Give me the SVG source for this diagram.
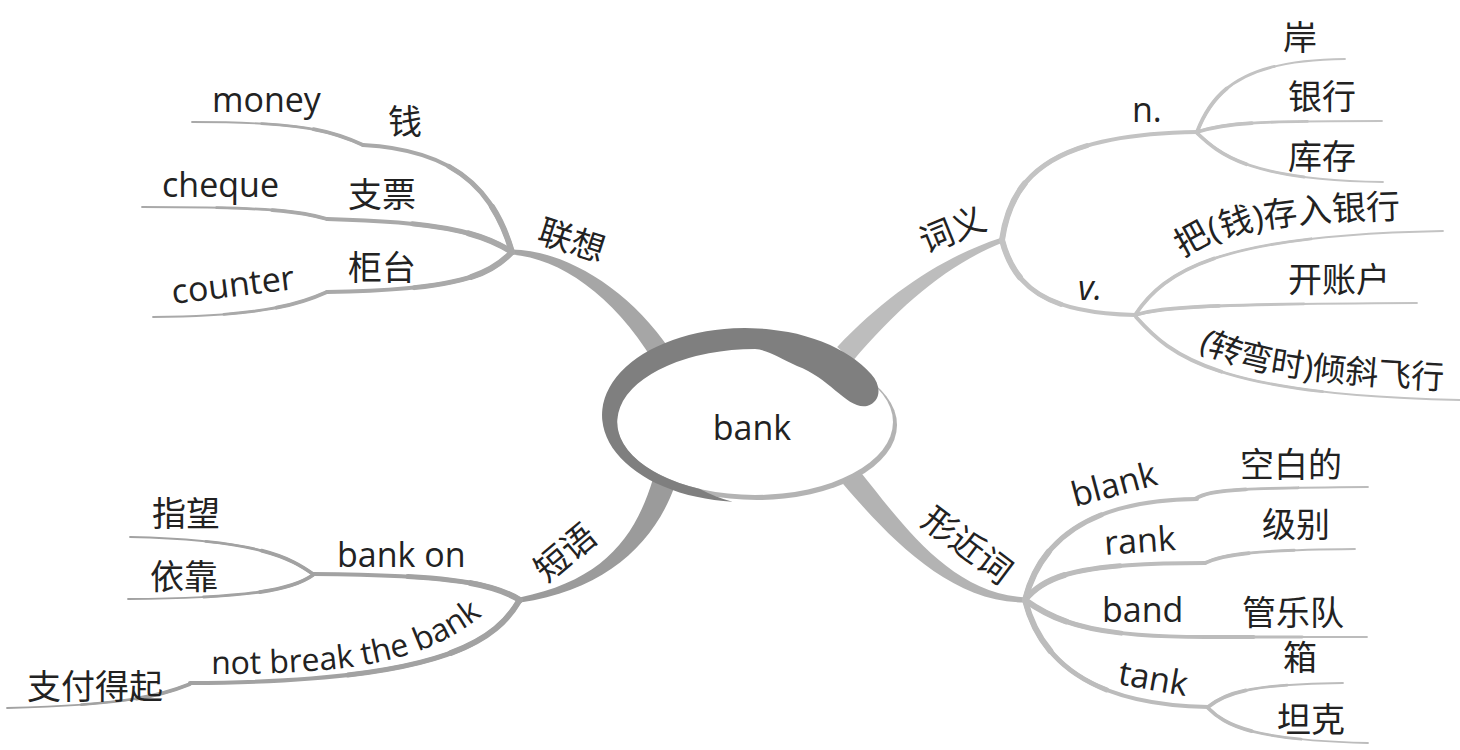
<svg xmlns="http://www.w3.org/2000/svg" width="1460" height="750" viewBox="0 0 1460 750">
<style>
.t{font-family:"Open Sans","Noto Sans CJK SC",sans-serif;font-size:34px;fill:#222}
.it{font-style:italic}
.s{fill:none;stroke-linecap:round}
.w1{stroke-width:4}
.w1b{stroke-width:5;stroke-dasharray:55 300}
.w1c{stroke-width:6;stroke-dasharray:25 300}
.w2{stroke-width:1.8}
.w2b{stroke-width:2.8;stroke-dasharray:60 300}
.w2c{stroke-width:3.8;stroke-dasharray:30 300}
.gL{stroke:#a9a9a9}
.gR{stroke:#c3c3c3}
.gP{stroke:#a2a2a2}
.gX{stroke:#bcbcbc}
</style>
<defs>
<path id="c_qian" pathLength="100" d="M 512 252 C 495 195 460 150 363 145"/>
<path id="c_money" pathLength="100" d="M 363 145 C 330 130 300 122 192 122"/>
<path id="c_zp" pathLength="100" d="M 512 252 C 480 232 440 222 327 219"/>
<path id="c_cheque" pathLength="100" d="M 327 219 C 300 212 280 207 142 207"/>
<path id="c_gt" pathLength="100" d="M 512 252 C 490 275 460 290 327 292"/>
<path id="c_counter" pathLength="100" d="M 327 292 C 305 302 270 316 153 317"/>
<path id="c_n" pathLength="100" d="M 1002 240 C 1012 170 1060 134 1197 132"/>
<path id="c_v" pathLength="100" d="M 1002 240 C 1015 290 1050 313 1135 315"/>
<path id="c_an" pathLength="100" d="M 1197 132 C 1215 85 1250 60 1345 59"/>
<path id="c_yh" pathLength="100" d="M 1197 132 C 1225 123 1250 121 1382 121"/>
<path id="c_kc" pathLength="100" d="M 1197 133 C 1220 155 1250 180 1383 182"/>
<path id="c_cr" pathLength="100" d="M 1135 315 C 1165 270 1220 235 1443 231"/>
<path id="c_kz" pathLength="100" d="M 1135 315 C 1160 308 1190 304 1417 303"/>
<path id="c_qx" pathLength="100" d="M 1136 317 C 1170 355 1215 395 1460 400"/>
<path id="c_bo" pathLength="100" d="M 520 600 C 495 585 460 575 313 574"/>
<path id="c_zw" pathLength="100" d="M 313 574 C 290 558 260 540 130 537"/>
<path id="c_yk" pathLength="100" d="M 313 575 C 295 588 260 598 128 599"/>
<path id="c_nb" pathLength="100" d="M 519 601 C 495 642 440 682 190 683"/>
<path id="c_zf" pathLength="100" d="M 190 684 C 170 692 140 705 7 708"/>
<path id="c_blank" pathLength="100" d="M 1025 600 C 1040 540 1090 500 1197 499"/>
<path id="c_kbd" pathLength="100" d="M 1195 499 C 1210 490 1230 488 1368 487"/>
<path id="c_rank" pathLength="100" d="M 1025 600 C 1045 575 1080 563 1205 563"/>
<path id="c_jb" pathLength="100" d="M 1205 563 C 1220 556 1240 550 1355 549"/>
<path id="c_band" pathLength="100" d="M 1025 600 C 1060 625 1100 637 1205 637"/>
<path id="c_gly" pathLength="100" d="M 1205 637 L 1367 637"/>
<path id="c_tank" pathLength="100" d="M 1025 600 C 1040 660 1090 705 1208 707"/>
<path id="c_x" pathLength="100" d="M 1208 707 C 1225 693 1250 684 1343 683"/>
<path id="c_tk" pathLength="100" d="M 1208 708 C 1225 725 1250 740 1368 743"/>
<path id="tp_cr" d="M 1183 258 C 1220 232 1270 220 1430 218"/>
<path id="tp_qx" d="M 1198 349 C 1235 368 1280 382 1462 390"/>
<path id="tp_nb" d="M 211 674 C 370 674 440 660 505 595"/>
</defs>

<g id="connectors">
  <path d="M 512.1 249.5 C 560.2 249.5 627.2 285.4 670.4 350.6 L 653.6 361.4 C 612.8 294.6 559.8 258.5 511.9 254.5 Z" fill="#a6a6a6"/>
  <path d="M 1001.2 237.7 C 946.3 255.4 888.7 292.3 837.2 347 L 852.8 361 C 901.3 303.7 949.3 263.8 1002.9 242.4 Z" fill="#bdbdbd"/>
  <path d="M 519.6 597.5 C 604.1 580.1 635.5 536.9 653.1 478.4 L 674.9 485.6 C 654.5 543.1 605.9 589.9 520.4 602.5 Z" fill="#9b9b9b"/>
  <path d="M 1025.1 597.5 C 950.1 593 902.3 523.9 859.1 470.3 L 842.9 483.7 C 887.7 536.1 949.9 603 1024.9 602.5 Z" fill="#b3b3b3"/>

  <g class="s gL">
    <use href="#c_qian" class="w1"/><use href="#c_qian" class="w1b"/><use href="#c_qian" class="w1c"/>
    <use href="#c_zp" class="w1"/><use href="#c_zp" class="w1b"/><use href="#c_zp" class="w1c"/>
    <use href="#c_gt" class="w1"/><use href="#c_gt" class="w1b"/><use href="#c_gt" class="w1c"/>
    <use href="#c_money" class="w2"/><use href="#c_money" class="w2b"/><use href="#c_money" class="w2c"/>
    <use href="#c_cheque" class="w2"/><use href="#c_cheque" class="w2b"/><use href="#c_cheque" class="w2c"/>
    <use href="#c_counter" class="w2"/><use href="#c_counter" class="w2b"/><use href="#c_counter" class="w2c"/>
  </g>
  <g class="s gR">
    <use href="#c_n" class="w1"/><use href="#c_n" class="w1b"/><use href="#c_n" class="w1c"/>
    <use href="#c_v" class="w1"/><use href="#c_v" class="w1b"/><use href="#c_v" class="w1c"/>
    <use href="#c_an" class="w2"/><use href="#c_an" class="w2b"/><use href="#c_an" class="w2c"/>
    <use href="#c_yh" class="w2"/><use href="#c_yh" class="w2b"/><use href="#c_yh" class="w2c"/>
    <use href="#c_kc" class="w2"/><use href="#c_kc" class="w2b"/><use href="#c_kc" class="w2c"/>
    <use href="#c_cr" class="w2"/><use href="#c_cr" class="w2b"/><use href="#c_cr" class="w2c"/>
    <use href="#c_kz" class="w2"/><use href="#c_kz" class="w2b"/><use href="#c_kz" class="w2c"/>
    <use href="#c_qx" class="w2"/><use href="#c_qx" class="w2b"/><use href="#c_qx" class="w2c"/>
  </g>
  <g class="s gP">
    <use href="#c_bo" class="w1"/><use href="#c_bo" class="w1b"/><use href="#c_bo" class="w1c"/>
    <use href="#c_nb" class="w1"/><use href="#c_nb" class="w1b"/><use href="#c_nb" class="w1c"/>
    <use href="#c_zw" class="w2"/><use href="#c_zw" class="w2b"/><use href="#c_zw" class="w2c"/>
    <use href="#c_yk" class="w2"/><use href="#c_yk" class="w2b"/><use href="#c_yk" class="w2c"/>
    <use href="#c_zf" class="w2"/><use href="#c_zf" class="w2b"/><use href="#c_zf" class="w2c"/>
  </g>
  <g class="s gX">
    <use href="#c_blank" class="w1"/><use href="#c_blank" class="w1b"/><use href="#c_blank" class="w1c"/>
    <use href="#c_rank" class="w1"/><use href="#c_rank" class="w1b"/><use href="#c_rank" class="w1c"/>
    <use href="#c_band" class="w1"/><use href="#c_band" class="w1b"/><use href="#c_band" class="w1c"/>
    <use href="#c_tank" class="w1"/><use href="#c_tank" class="w1b"/><use href="#c_tank" class="w1c"/>
    <use href="#c_kbd" class="w2"/><use href="#c_kbd" class="w2b"/><use href="#c_kbd" class="w2c"/>
    <use href="#c_jb" class="w2"/><use href="#c_jb" class="w2b"/><use href="#c_jb" class="w2c"/>
    <use href="#c_gly" class="w2"/><use href="#c_gly" class="w2b"/><use href="#c_gly" class="w2c"/>
    <use href="#c_x" class="w2"/><use href="#c_x" class="w2b"/><use href="#c_x" class="w2c"/>
    <use href="#c_tk" class="w2"/><use href="#c_tk" class="w2b"/><use href="#c_tk" class="w2c"/>
  </g>
</g>

<g id="node-bank">
  <ellipse cx="757" cy="425" rx="140" ry="75" fill="#b3b3b3"/>
  <ellipse cx="755" cy="422" rx="138" ry="73" fill="#ffffff"/>
  <path d="M 732.5 501.7 A 143 87 0 1 1 871.3 374.2 C 882 386 881 402 867 406 C 848 410 830 378 797 366 C 780 358 768 350 755 349 A 138 73 0 0 0 700 488.9 Q 715 497 732.5 501.7 Z" fill="#7f7f7f"/>
  <text class="t" x="752" y="440" text-anchor="middle">bank</text>
</g>

<g id="node-lianxiang"><text class="t" x="568" y="252" text-anchor="middle" transform="rotate(18 568 252)">联想</text></g>
<g id="node-qian"><text class="t" x="388" y="134">钱</text></g>
<g id="node-money"><text class="t" x="212" y="112">money</text></g>
<g id="node-zhipiao"><text class="t" x="348" y="207">支票</text></g>
<g id="node-cheque"><text class="t" x="162" y="197">cheque</text></g>
<g id="node-guitai"><text class="t" x="348" y="280">柜台</text></g>
<g id="node-counter"><text class="t" x="173" y="304" transform="rotate(-7 173 304)">counter</text></g>

<g id="node-ciyi"><text class="t" x="957" y="241" text-anchor="middle" transform="rotate(-22 957 241)">词义</text></g>
<g id="node-n"><text class="t" x="1132" y="122">n.</text></g>
<g id="node-an"><text class="t" x="1283" y="50">岸</text></g>
<g id="node-yinhang"><text class="t" x="1288" y="109">银行</text></g>
<g id="node-kucun"><text class="t" x="1288" y="169">库存</text></g>
<g id="node-v"><text class="t it" x="1078" y="300">v.</text></g>
<g id="node-cunru"><text class="t"><textPath href="#tp_cr">把(钱)存入银行</textPath></text></g>
<g id="node-kaizhanghu"><text class="t" x="1288" y="292">开账户</text></g>
<g id="node-qingxie"><text class="t" style="font-size:33px"><textPath href="#tp_qx">(转弯时)倾斜飞行</textPath></text></g>

<g id="node-duanyu"><text class="t" x="573" y="562" text-anchor="middle" transform="rotate(-40 573 562)">短语</text></g>
<g id="node-bankon"><text class="t" x="337" y="567">bank on</text></g>
<g id="node-zhiwang"><text class="t" x="152" y="526">指望</text></g>
<g id="node-yikao"><text class="t" x="150" y="589">依靠</text></g>
<g id="node-notbreak"><text class="t" style="font-size:32px"><textPath href="#tp_nb">not break the bank</textPath></text></g>
<g id="node-zhifu"><text class="t" x="27" y="699">支付得起</text></g>

<g id="node-xingjinci"><text class="t" x="960" y="555" text-anchor="middle" transform="rotate(37 960 555)">形近词</text></g>
<g id="node-blank"><text class="t" x="1075" y="507" transform="rotate(-15 1075 507)">blank</text></g>
<g id="node-kongbaide"><text class="t" x="1240" y="477">空白的</text></g>
<g id="node-rank"><text class="t" x="1105" y="555" transform="rotate(-4 1105 555)">rank</text></g>
<g id="node-jibie"><text class="t" x="1262" y="537">级别</text></g>
<g id="node-band"><text class="t" x="1102" y="622">band</text></g>
<g id="node-guanyuedui"><text class="t" x="1242" y="625">管乐队</text></g>
<g id="node-tank"><text class="t" x="1117" y="684" transform="rotate(10 1117 684)">tank</text></g>
<g id="node-xiang"><text class="t" x="1283" y="670">箱</text></g>
<g id="node-tanke"><text class="t" x="1277" y="732">坦克</text></g>
</svg>
